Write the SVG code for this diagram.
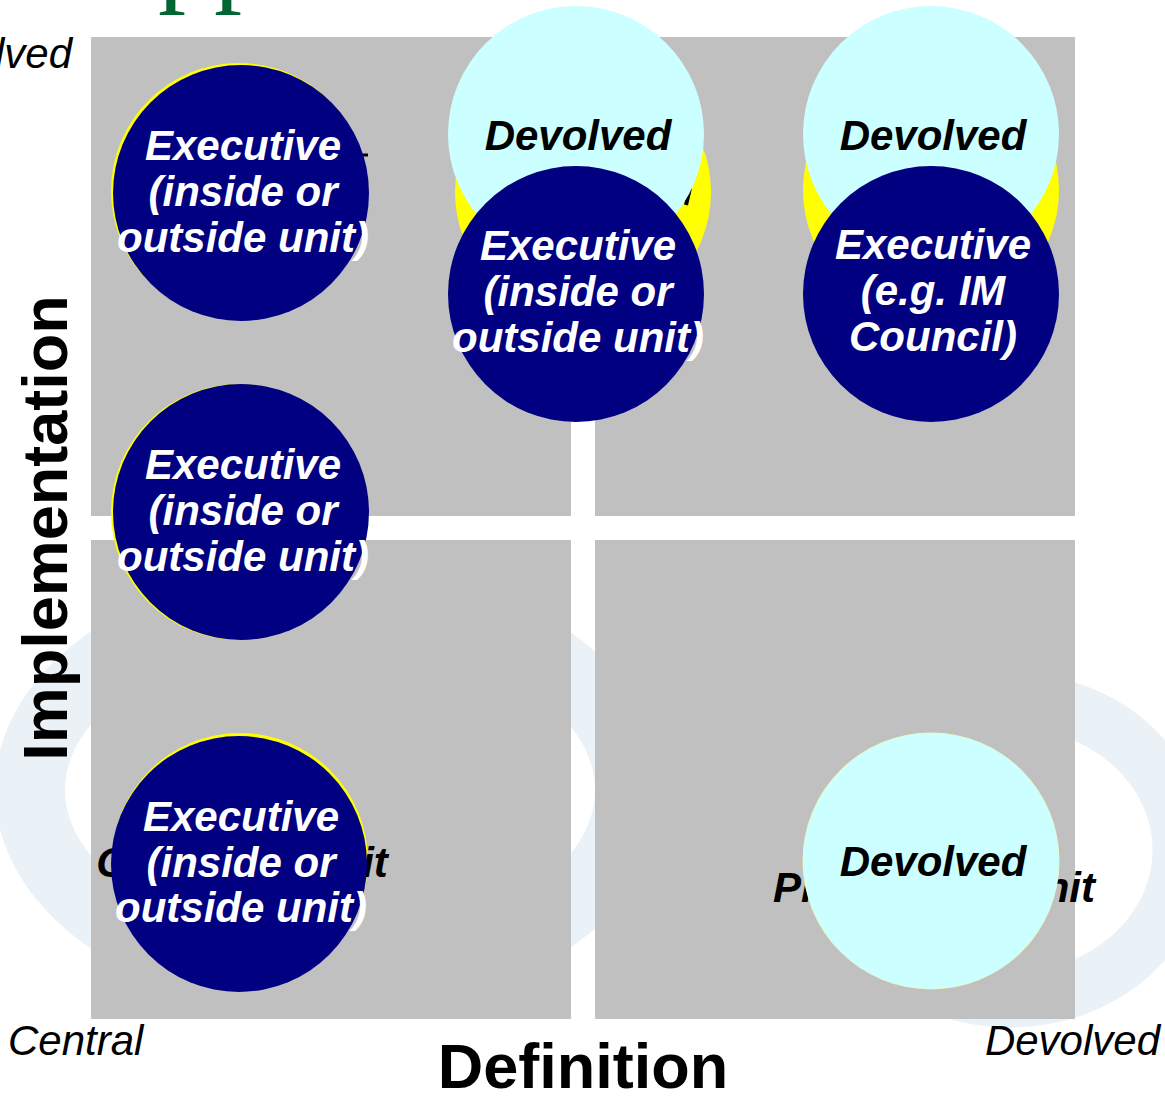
<svg xmlns="http://www.w3.org/2000/svg" width="1165" height="1096" viewBox="0 0 1165 1096">
<style>
.quad{fill:#C0C0C0}
.navy{fill:#000080}
.yel{fill:#FFFF00}
.cyan{fill:#CCFFFF}
.wt{font-family:"Liberation Sans",Arial,sans-serif;font-weight:bold;font-style:italic;font-size:42px;fill:#FFFFFF;text-anchor:middle}
.bt{font-family:"Liberation Sans",Arial,sans-serif;font-weight:bold;font-style:italic;font-size:42px;fill:#000000;text-anchor:middle}
.ax{font-family:"Liberation Sans",Arial,sans-serif;font-style:italic;font-size:42px;fill:#000000}
.axt{font-family:"Liberation Sans",Arial,sans-serif;font-weight:bold;font-size:63px;fill:#000000;text-anchor:middle}
.wm{fill:none;stroke:#EBF2F7}
</style>
<rect width="1165" height="1096" fill="#FFFFFF"/>
<g id="watermark">
<ellipse class="wm" cx="330" cy="790" rx="300" ry="190" stroke-width="70"/>
<ellipse class="wm" cx="1010" cy="850" rx="170" ry="150" stroke-width="55"/>
</g>
<text x="158" y="-9" font-family="'Liberation Serif','Times New Roman',serif" font-size="112" fill="#006633">pp</text>
<g id="quadrants">
<rect class="quad" x="91" y="37" width="480" height="479"/>
<rect class="quad" x="595" y="37" width="480" height="479"/>
<rect class="quad" x="91" y="540" width="480" height="479"/>
<rect class="quad" x="595" y="540" width="480" height="479"/>
</g>
<g id="axes">
<text class="ax" x="72" y="68" text-anchor="end">Devolved</text>
<text class="ax" x="8" y="1055">Central</text>
<text class="ax" x="1160" y="1055" text-anchor="end">Devolved</text>
<text class="axt" x="583" y="1088">Definition</text>
<text class="axt" transform="translate(67,528) rotate(-90)">Implementation</text>
</g>
<g id="node-tl">
<circle class="yel" cx="239" cy="191" r="128"/>
<line x1="362" y1="155" x2="368" y2="155" stroke="#000" stroke-width="3"/>
<circle class="navy" cx="241" cy="193" r="128"/>
<text class="wt" x="243" y="160">Executive</text>
<text class="wt" x="243" y="206">(inside or</text>
<text class="wt" x="243" y="252">outside unit)</text>
</g>
<g id="node-tm">
<circle class="yel" cx="583" cy="192" r="128"/>
<line x1="690" y1="188" x2="686" y2="205" stroke="#000" stroke-width="4"/>
<circle class="cyan" cx="576" cy="134" r="128"/>
<text class="bt" x="578" y="150">Devolved</text>
<circle class="navy" cx="576" cy="294" r="128"/>
<text class="wt" x="578" y="260">Executive</text>
<text class="wt" x="578" y="306">(inside or</text>
<text class="wt" x="578" y="352">outside unit)</text>
</g>
<g id="node-tr">
<circle class="yel" cx="931" cy="190" r="128"/>
<circle class="cyan" cx="931" cy="134" r="128"/>
<text class="bt" x="933" y="150">Devolved</text>
<circle class="navy" cx="931" cy="294" r="128"/>
<text class="wt" x="933" y="259">Executive</text>
<text class="wt" x="933" y="305">(e.g. IM</text>
<text class="wt" x="933" y="351">Council)</text>
</g>
<g id="node-ml">
<circle class="yel" cx="239" cy="512" r="128"/>
<circle class="navy" cx="241" cy="512" r="128"/>
<text class="wt" x="243" y="479">Executive</text>
<text class="wt" x="243" y="525">(inside or</text>
<text class="wt" x="243" y="571">outside unit)</text>
</g>
<g id="node-bl">
<circle class="yel" cx="240" cy="861" r="128"/>
<text class="bt" x="242" y="877" font-size="43">Central IM unit</text>
<circle class="navy" cx="239" cy="864" r="128"/>
<text class="wt" x="241" y="831">Executive</text>
<text class="wt" x="241" y="877">(inside or</text>
<text class="wt" x="241" y="922">outside unit)</text>
</g>
<g id="node-br">
<text class="bt" x="934" y="902">Programme unit</text>
<circle cx="931" cy="861" r="128.5" fill="#F2F5A0"/>
<circle class="cyan" cx="931" cy="861" r="128"/>
<text class="bt" x="933" y="876">Devolved</text>
</g>
</svg>
